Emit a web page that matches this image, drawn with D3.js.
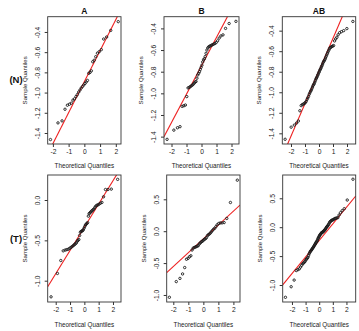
<!DOCTYPE html>
<html><head><meta charset="utf-8">
<script src="https://cdn.jsdelivr.net/npm/d3@7"></script>
<style>body{margin:0;background:#fff;} svg{display:block;font-family:"Liberation Sans",Arial,Helvetica,sans-serif;}</style>
</head><body><svg id="c" width="359" height="331"></svg>
<script>
// ---------- data ----------
const colTitles = ["A", "B", "AB"];
const rowLabels = ["(N)", "(T)"];
const xTickValues = [-2, -1, 0, 1, 2];
const yTicksNormal = [-1.4, -1.2, -1.0, -0.8, -0.6, -0.4];
const yTicksTumorA = [-1.0, -0.5, 0.0];
const yTicksTumor = [-1.0, -0.5, 0.0, 0.5];
const xAxisTitle = "Theoretical Quantiles";
const yAxisTitle = "Sample Quantiles";

// (N) A
const nA_theo = [-2.154,-1.676,-1.418,-1.230,-1.078,-0.947,-0.831,-0.725,-0.626,-0.533,-0.445,-0.360,-0.278,-0.197,-0.118,-0.039,
  0.039,0.118,0.197,0.278,0.360,0.445,0.533,0.626,0.725,0.831,0.947,1.078,1.230,1.418,1.676,2.154];
const nA_sample = [-1.465,-1.30,-1.28,-1.165,-1.125,-1.115,-1.105,-1.075,-1.062,-1.04,-1.02,-0.995,-0.975,-0.955,-0.94,-0.925,
  -0.91,-0.895,-0.88,-0.81,-0.80,-0.785,-0.695,-0.68,-0.645,-0.61,-0.595,-0.575,-0.47,-0.45,-0.385,-0.298];
// (N) B
const nB_theo = [-2.295,-1.843,-1.604,-1.432,-1.294,-1.177,-1.074,-0.982,-0.897,-0.818,-0.744,-0.674,-0.607,-0.543,-0.481,-0.421,-0.362,-0.304,-0.248,-0.192,-0.137,-0.082,-0.027,
  0.027,0.082,0.137,0.192,0.248,0.304,0.362,0.421,0.481,0.543,0.607,0.674,0.744,0.818,0.897,0.982,1.074,1.177,1.294,1.432,1.604,1.843,2.295];
const nB_sample = [-1.425,-1.34,-1.318,-1.308,-1.12,-1.115,-1.108,-1.03,-0.95,-0.945,-0.938,-0.93,-0.924,-0.915,-0.905,-0.895,-0.89,-0.86,-0.83,-0.815,-0.80,-0.78,-0.76,
  -0.74,-0.71,-0.69,-0.68,-0.66,-0.63,-0.60,-0.58,-0.57,-0.565,-0.56,-0.555,-0.55,-0.545,-0.54,-0.53,-0.515,-0.49,-0.47,-0.46,-0.40,-0.355,-0.335];
// (N) AB
const nAB_theo = [-2.418,-1.988,-1.762,-1.601,-1.473,-1.366,-1.273,-1.190,-1.113,-1.044,-0.978,-0.916,-0.858,-0.803,-0.750,-0.699,
  -0.650,-0.602,-0.556,-0.511,-0.467,-0.424,-0.381,-0.339,-0.298,-0.258,-0.217,-0.177,-0.138,-0.098,-0.059,-0.020,
  0.020,0.059,0.098,0.138,0.177,0.217,0.258,0.298,0.339,0.381,0.424,0.467,0.511,0.556,0.602,0.650,
  0.699,0.750,0.803,0.858,0.916,0.978,1.044,1.113,1.190,1.273,1.366,1.473,1.601,1.762,1.988,2.418];
const nAB_sample = [-1.458,-1.34,-1.32,-1.30,-1.28,-1.18,-1.13,-1.12,-1.115,-1.11,-1.10,-1.09,-1.07,-1.055,-1.04,-1.02,
  -1.005,-0.99,-0.98,-0.965,-0.95,-0.935,-0.925,-0.915,-0.90,-0.885,-0.87,-0.86,-0.85,-0.835,-0.825,-0.81,
  -0.80,-0.785,-0.775,-0.765,-0.75,-0.74,-0.725,-0.71,-0.70,-0.69,-0.68,-0.665,-0.65,-0.635,-0.62,-0.605,
  -0.59,-0.575,-0.565,-0.56,-0.555,-0.55,-0.545,-0.50,-0.48,-0.465,-0.44,-0.42,-0.41,-0.40,-0.38,-0.31];
// (T) A
const tA_theo = [-2.326,-1.881,-1.645,-1.476,-1.341,-1.227,-1.126,-1.036,-0.954,-0.878,-0.806,-0.739,-0.674,-0.613,-0.553,-0.496,-0.440,-0.385,-0.332,-0.279,-0.228,-0.176,-0.126,-0.075,-0.025,
  0.025,0.075,0.126,0.176,0.228,0.279,0.332,0.385,0.440,0.496,0.553,0.613,0.674,0.739,0.806,0.878,0.954,1.036,1.126,1.227,1.341,1.476,1.645,1.881,2.326];
const tA_sample = [-1.20,-0.91,-0.75,-0.63,-0.62,-0.615,-0.61,-0.60,-0.59,-0.58,-0.57,-0.56,-0.55,-0.54,-0.53,-0.51,-0.50,-0.49,-0.44,-0.40,-0.39,-0.385,-0.38,-0.37,-0.35,
  -0.33,-0.31,-0.30,-0.29,-0.28,-0.20,-0.17,-0.16,-0.15,-0.14,-0.13,-0.12,-0.11,-0.09,-0.075,-0.065,-0.06,-0.05,-0.04,-0.03,0.04,0.13,0.13,0.135,0.256];
// (T) B
const tB_theo = [-2.261,-1.803,-1.559,-1.383,-1.242,-1.122,-1.016,-0.921,-0.833,-0.752,-0.674,-0.601,-0.531,-0.464,-0.398,-0.334,-0.272,-0.210,-0.150,-0.090,-0.030,
  0.030,0.090,0.150,0.210,0.272,0.334,0.398,0.464,0.531,0.601,0.674,0.752,0.833,0.921,1.016,1.122,1.242,1.383,1.559,1.803,2.261];
const tB_sample = [-1.036,-0.79,-0.74,-0.67,-0.57,-0.44,-0.425,-0.40,-0.385,-0.295,-0.265,-0.255,-0.25,-0.24,-0.235,-0.225,-0.20,-0.185,-0.17,-0.16,-0.15,
  -0.135,-0.125,-0.115,-0.10,-0.07,-0.055,-0.045,-0.03,-0.01,0.01,0.03,0.045,0.07,0.10,0.12,0.13,0.13,0.135,0.20,0.45,0.80];
// (T) AB
const tAB_theo = [-2.479,-2.059,-1.840,-1.684,-1.561,-1.458,-1.369,-1.289,-1.217,-1.150,-1.089,-1.031,-0.976,-0.924,-0.874,-0.827,-0.782,-0.738,-0.695,
  -0.654,-0.614,-0.574,-0.536,-0.498,-0.461,-0.425,-0.389,-0.353,-0.319,-0.284,-0.250,-0.216,-0.183,-0.149,-0.116,-0.083,-0.049,-0.016,
  0.016,0.049,0.083,0.116,0.149,0.183,0.216,0.250,0.284,0.319,0.353,0.389,0.425,0.461,0.498,0.536,0.574,0.614,0.654,
  0.695,0.738,0.782,0.827,0.874,0.924,0.976,1.031,1.089,1.150,1.217,1.289,1.369,1.458,1.561,1.684,1.840,2.059,2.479];
const tAB_sample = [-1.213,-1.03,-0.915,-0.75,-0.735,-0.72,-0.69,-0.66,-0.635,-0.62,-0.605,-0.59,-0.565,-0.55,-0.535,-0.52,-0.49,-0.46,-0.44,
  -0.42,-0.41,-0.395,-0.385,-0.37,-0.355,-0.345,-0.33,-0.315,-0.30,-0.29,-0.27,-0.26,-0.25,-0.235,-0.215,-0.195,-0.18,-0.165,
  -0.15,-0.135,-0.125,-0.115,-0.105,-0.095,-0.09,-0.085,-0.08,-0.07,-0.06,-0.05,-0.045,-0.03,-0.015,0.0,0.01,0.02,0.035,
  0.05,0.07,0.09,0.10,0.11,0.12,0.125,0.13,0.14,0.15,0.155,0.16,0.165,0.21,0.25,0.285,0.32,0.47,0.83];

// reference lines (intercept, slope) per panel: N-A, N-B, N-AB, T-A, T-B, T-AB
const qqIntercept = [-0.892, -0.745, -0.792, -0.337, -0.12, -0.23];
const qqSlope = [0.307, 0.262, 0.318, 0.288, 0.217, 0.287];

// ---------- layout ----------
const panels = [
  {row:0, col:0, xs:nA_theo,  ys:nA_sample,  yTicks:yTicksNormal, box:[47.7,121,16.7,144], xDom:[-2.33,2.33], yDom:[-1.509,-0.249]},
  {row:0, col:1, xs:nB_theo,  ys:nB_sample,  yTicks:yTicksNormal, box:[164,239,16.7,144],  xDom:[-2.5,2.5],   yDom:[-1.468,-0.292]},
  {row:0, col:2, xs:nAB_theo, ys:nAB_sample, yTicks:yTicksNormal, box:[282.3,355.7,16.7,144], xDom:[-2.62,2.62], yDom:[-1.504,-0.264]},
  {row:1, col:0, xs:tA_theo,  ys:tA_sample,  yTicks:yTicksTumorA, box:[47.7,121,175,302], xDom:[-2.56,2.56], yDom:[-1.264,0.31]},
  {row:1, col:1, xs:tB_theo,  ys:tB_sample,  yTicks:yTicksTumor,  box:[166.7,240,175,302], xDom:[-2.44,2.44], yDom:[-1.11,0.881]},
  {row:1, col:2, xs:tAB_theo, ys:tAB_sample, yTicks:yTicksTumor,  box:[282.7,355.7,175,302], xDom:[-2.68,2.68], yDom:[-1.294,0.903]}
];

const svg = d3.select("#c");
svg.append("rect").attr("width",359).attr("height",331).attr("fill","#fff");
const ink = "#222";

panels.forEach((p, i) => {
  const [x0, x1, y0, y1] = p.box;
  const w = x1 - x0, h = y1 - y0;
  const x = d3.scaleLinear().domain(p.xDom).range([0, w]);
  const y = d3.scaleLinear().domain(p.yDom).range([h, 0]);
  const g = svg.append("g").attr("transform", `translate(${x0},${y0})`);

  const clipId = "clip" + i;
  g.append("clipPath").attr("id", clipId).append("rect").attr("width", w).attr("height", h);

  // reference line
  const a = qqIntercept[i], b = qqSlope[i];
  g.append("line")
    .attr("clip-path", `url(#${clipId})`)
    .attr("x1", x(p.xDom[0])).attr("y1", y(a + b * p.xDom[0]))
    .attr("x2", x(p.xDom[1])).attr("y2", y(a + b * p.xDom[1]))
    .attr("stroke", "#ee2020").attr("stroke-width", 1.1);

  // points
  g.append("g").selectAll("circle").data(d3.zip(p.xs, p.ys)).join("circle")
    .attr("cx", d => x(d[0])).attr("cy", d => y(d[1])).attr("r", 1.2)
    .attr("fill", "none").attr("stroke", "#1a1a1a").attr("stroke-width", 0.9);

  // box
  g.append("rect").attr("width", w).attr("height", h)
    .attr("fill", "none").attr("stroke", "#333").attr("stroke-width", 0.9);

  // x axis
  const gx = g.append("g").attr("transform", `translate(0,${h})`)
    .call(d3.axisBottom(x).tickValues(xTickValues).tickSize(3).tickPadding(2).tickFormat(d => String(d)));
  gx.select(".domain").remove();
  gx.selectAll("line").attr("stroke", "#333");
  gx.selectAll("text").attr("font-size", 6.7).attr("fill", ink);
  gx.attr("font-family", null);

  // y axis (rotated labels, R style)
  const gy = g.append("g")
    .call(d3.axisLeft(y).tickValues(p.yTicks).tickSize(3).tickFormat(d => d.toFixed(1)));
  gy.select(".domain").remove();
  gy.attr("font-family", null);
  gy.selectAll("line").attr("stroke", "#333");
  gy.selectAll("text")
    .attr("x", null).attr("dy", null)
    .attr("transform", "translate(-8,0) rotate(-90)")
    .attr("text-anchor", "middle")
    .attr("font-size", 6.7).attr("fill", ink);

  // axis titles
  g.append("text").attr("x", w / 2).attr("y", h + 24.5)
    .attr("text-anchor", "middle").attr("font-size", 6.3).attr("fill", ink).text(xAxisTitle);
  g.append("text").attr("transform", `translate(-21,${h / 2}) rotate(-90)`)
    .attr("text-anchor", "middle").attr("font-size", 6.1).attr("fill", ink).text(yAxisTitle);

  // column titles (top row)
  if (p.row === 0) {
    g.append("text").attr("x", w / 2).attr("y", -2.5)
      .attr("text-anchor", "middle").attr("font-size", 8.5).attr("font-weight", "bold")
      .attr("fill", "#111").text(colTitles[p.col]);
  }
  // row labels
  if (p.col === 0) {
    svg.append("text").attr("x", 16).attr("y", y0 + h / 2 + 3)
      .attr("text-anchor", "middle").attr("font-size", 9.5).attr("font-weight", "bold")
      .attr("fill", "#111").text(rowLabels[p.row]);
  }
});
</script>
</body></html>
